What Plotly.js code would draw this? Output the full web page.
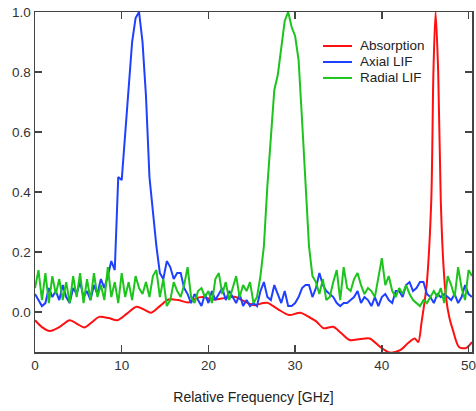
<!DOCTYPE html>
<html>
<head>
<meta charset="utf-8">
<script src="https://cdn.plot.ly/plotly-3.0.1.min.js"></script>
<style>
html,body{margin:0;padding:0;background:#fff;}
#chart{width:476px;height:411px;}
</style>
</head>
<body>
<div id="chart"></div>
<script>
// Absorption (smooth curve)
const absX = [0,0.8,1.7,2.8,4.0,4.9,5.7,6.5,7.4,8.5,9.5,10.6,11.7,12.6,13.4,14.4,15.4,16.5,17.7,18.5,19.3,20.5,21.5,23.0,24.2,25.3,26.3,26.8,28.0,29.3,30.6,31.8,32.4,33.3,34.4,35.3,36.3,37.5,38.6,39.8,40.9,42.1,43.0,43.8,44.2,44.6,45.0,45.2,45.7,45.95,46.2,46.5,46.8,47.1,47.4,47.8,48.2,48.9,49.7,50.4];
const absY = [-0.027,-0.05,-0.063,-0.05,-0.027,-0.04,-0.051,-0.035,-0.016,-0.02,-0.027,-0.005,0.018,0.008,-0.002,0.02,0.042,0.04,0.032,0.045,0.05,0.042,0.045,0.051,0.035,0.023,0.03,0.031,0.01,-0.01,-0.002,-0.02,-0.03,-0.054,-0.049,-0.07,-0.093,-0.09,-0.088,-0.116,-0.135,-0.127,-0.104,-0.088,-0.1,-0.03,0.05,0.1,0.37,0.8,1.0,0.8,0.37,0.16,0.05,-0.02,-0.06,-0.116,-0.12,-0.1];

// Axial LIF and Radial LIF (noisy spectra)
const lifX = [0,0.4,0.8,1.2,1.6,2.0,2.4,2.8,3.2,3.6,4.0,4.4,4.8,5.2,5.6,6.0,6.4,6.8,7.2,7.6,8.0,8.4,8.8,9.2,9.6,10.0,10.4,10.8,11.2,11.6,12.0,12.4,12.8,13.2,13.6,14.0,14.4,14.8,15.2,15.6,16.0,16.4,16.8,17.2,17.6,18.0,18.4,18.8,19.2,19.6,20.0,20.4,20.8,21.2,21.6,22.0,22.4,22.8,23.2,23.6,24.0,24.4,24.8,25.2,25.6,26.0,26.4,26.8,27.2,27.6,28.0,28.4,28.8,29.2,29.6,30.0,30.4,30.8,31.2,31.6,32.0,32.4,32.8,33.2,33.6,34.0,34.4,34.8,35.2,35.6,36.0,36.4,36.8,37.2,37.6,38.0,38.4,38.8,39.2,39.6,40.0,40.4,40.8,41.2,41.6,42.0,42.4,42.8,43.2,43.6,44.0,44.4,44.8,45.2,45.6,46.0,46.4,46.8,47.2,47.6,48.0,48.4,48.8,49.2,49.6,50.0,50.4];
const axialY = [0.06,0.04,0.02,0.03,0.08,0.05,0.07,0.04,0.09,0.05,0.03,0.08,0.06,0.10,0.05,0.07,0.04,0.09,0.06,0.11,0.08,0.12,0.17,0.14,0.45,0.44,0.60,0.75,0.90,0.98,1.0,0.90,0.72,0.45,0.33,0.22,0.13,0.11,0.17,0.15,0.11,0.13,0.13,0.08,0.06,0.03,0.06,0.04,0.02,0.06,0.03,0.07,0.04,0.06,0.08,0.04,0.07,0.05,0.03,0.06,0.02,0.04,0.02,0.03,0.02,0.07,0.10,0.05,0.04,0.09,0.06,0.03,0.07,0.02,0.02,0.03,0.05,0.08,0.09,0.09,0.05,0.08,0.13,0.09,0.07,0.06,0.05,0.03,0.02,0.03,0.03,0.04,0.05,0.07,0.03,0.05,0.04,0.02,0.05,0.02,0.05,0.06,0.04,0.03,0.07,0.07,0.05,0.09,0.10,0.07,0.08,0.10,0.10,0.06,0.05,0.03,0.06,0.05,0.06,0.05,0.04,0.06,0.03,0.05,0.09,0.06,0.05];
const radialY = [0.08,0.14,0.04,0.13,0.03,0.12,0.06,0.11,0.04,0.10,0.03,0.12,0.05,0.13,0.03,0.11,0.04,0.13,0.05,0.09,0.04,0.15,0.05,0.10,0.03,0.13,0.05,0.10,0.04,0.12,0.08,0.06,0.10,0.05,0.12,0.14,0.05,0.11,0.02,0.04,0.10,0.07,0.05,0.09,0.15,0.05,0.03,0.07,0.08,0.05,0.07,0.03,0.11,0.13,0.06,0.10,0.04,0.08,0.12,0.05,0.09,0.07,0.10,0.03,0.05,0.12,0.22,0.42,0.58,0.74,0.79,0.88,0.97,1.0,0.95,0.92,0.84,0.64,0.42,0.22,0.12,0.10,0.06,0.11,0.04,0.05,0.10,0.14,0.04,0.15,0.08,0.07,0.11,0.13,0.09,0.06,0.08,0.07,0.05,0.12,0.18,0.09,0.12,0.07,0.05,0.08,0.06,0.09,0.06,0.04,0.03,0.02,0.04,0.03,0.05,0.07,0.05,0.08,0.03,0.12,0.09,0.05,0.15,0.08,0.04,0.14,0.12];

const seriesNames = ['Absorption','Axial LIF','Radial LIF'];
const seriesColors = ['#ff1010','#1f40ff','#1cc41c'];
const xTicks = [0,10,20,30,40,50];
const yTicks = [0.0,0.2,0.4,0.6,0.8,1.0];

const FONT = 'Liberation Sans, Arial, sans-serif';

const traces = [
  {x: absX, y: absY, name: seriesNames[0], mode: 'lines',
   line: {color: seriesColors[0], width: 2, shape: 'spline', smoothing: 0.8}},
  {x: lifX, y: axialY, name: seriesNames[1], mode: 'lines',
   line: {color: seriesColors[1], width: 2}},
  {x: lifX, y: radialY, name: seriesNames[2], mode: 'lines',
   line: {color: seriesColors[2], width: 2}}
];

// compact legend drawn in paper coordinates
const legX0 = 0.659, legX1 = 0.7254, legTextX = 0.739;
const legRows = [0.9, 0.853, 0.806];
const shapes = seriesNames.map((n, i) => ({
  type: 'line', xref: 'paper', yref: 'paper',
  x0: legX0, x1: legX1, y0: legRows[i], y1: legRows[i],
  line: {color: seriesColors[i], width: 2}
}));
const annotations = seriesNames.map((n, i) => ({
  xref: 'paper', yref: 'paper', x: legTextX, y: legRows[i],
  xanchor: 'left', yanchor: 'middle', showarrow: false, text: n,
  font: {family: FONT, size: 13.5, color: '#222'}
}));

const axisCommon = {
  showline: true, linecolor: '#444', linewidth: 1.5, mirror: 'ticks',
  ticks: 'inside', ticklen: 7, tickwidth: 1.5, tickcolor: '#444',
  showgrid: false, zeroline: false, ticklabeloverflow: 'allow',
  tickfont: {family: FONT, size: 13.5, color: '#333'}
};

const layout = {
  width: 476, height: 411,
  margin: {l: 35, r: 4, t: 12, b: 59},
  paper_bgcolor: '#fff', plot_bgcolor: '#fff',
  showlegend: false,
  shapes: shapes,
  annotations: annotations,
  xaxis: Object.assign({}, axisCommon, {
    range: [0, 50.4], tickvals: xTicks,
    title: {text: 'Relative Frequency [GHz]', font: {family: FONT, size: 14, color: '#222'}, standoff: 20}
  }),
  yaxis: Object.assign({}, axisCommon, {
    range: [-0.133, 1.0], tickvals: yTicks, tickformat: '.1f'
  })
};

Plotly.newPlot('chart', traces, layout, {displayModeBar: false, staticPlot: true});
</script>
</body>
</html>
